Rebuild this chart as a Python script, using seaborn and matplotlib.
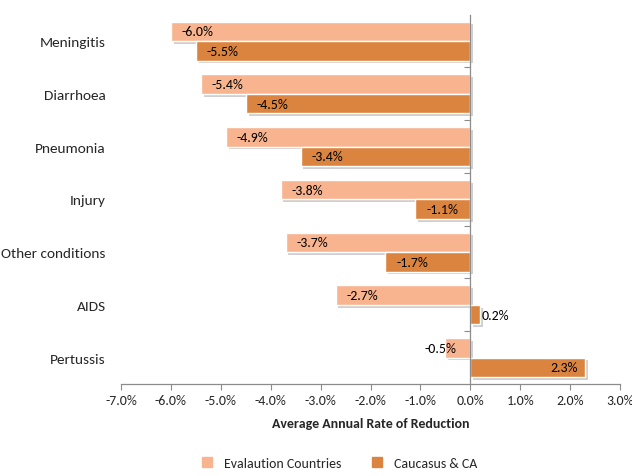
import matplotlib
matplotlib.use("Agg")
import matplotlib.pyplot as plt
import matplotlib.patheffects as pe
from matplotlib.lines import Line2D
from matplotlib.ticker import FixedLocator, FuncFormatter
import numpy as np
import pandas as pd
import seaborn as sns

causes = ["Meningitis", "Diarrhoea", "Pneumonia", "Injury", "Other conditions", "AIDS", "Pertussis"]
evaluation_countries = [-6.0, -5.4, -4.9, -3.8, -3.7, -2.7, -0.5]
caucasus_ca = [-5.5, -4.5, -3.4, -1.1, -1.7, 0.2, 2.3]
series_names = ["Evalaution Countries", "Caucasus & CA"]
x_ticks = [-7, -6, -5, -4, -3, -2, -1, 0, 1, 2, 3]

light = "#F8B48E"
dark = "#DB843F"
grey = "#8C8C8C"
fs = 10

sns.set_theme(style="white")
plt.rcParams["font.family"] = ["Carlito", "Lato", "DejaVu Sans"]

df = pd.DataFrame({
    "cause": causes * 2,
    "series": [series_names[0]] * len(causes) + [series_names[1]] * len(causes),
    "value": evaluation_countries + caucasus_ca,
})

fig = plt.figure(figsize=(6.32, 4.77), dpi=100)
ax = fig.add_axes([0.1915, 0.193, 0.7895, 0.774])

sns.barplot(data=df, y="cause", x="value", hue="series", order=causes,
            hue_order=series_names, palette=[light, dark], saturation=1, orient="h",
            width=0.74, gap=0, legend=False, ax=ax, errorbar=None)

shadow = [pe.SimplePatchShadow(offset=(2, -2), shadow_rgbFace="#a0a0a0", alpha=0.5), pe.Normal()]
for patch in ax.patches:
    patch.set_edgecolor("white")
    patch.set_linewidth(1.0)
    patch.set_path_effects(shadow)

# value labels, placed at the outer end of each bar
for container, vals in zip(ax.containers, [evaluation_countries, caucasus_ca]):
    for patch, v in zip(container.patches, vals):
        yc = patch.get_y() + patch.get_height() / 2
        txt = f"{v:.1f}%"
        if v < -1:
            ax.text(v + 0.22, yc, txt, ha="left", va="center", fontsize=fs, color="black")
        elif v < 0:
            ax.text(v - 0.1, yc, txt, ha="center", va="center", fontsize=fs, color="black")
        elif v < 1:
            ax.text(v + 0.03, yc, txt, ha="left", va="center", fontsize=fs, color="black")
        else:
            ax.text(v - 0.15, yc, txt, ha="right", va="center", fontsize=fs, color="black")

ax.set_xlim(-7, 3)
ax.set_ylim(len(causes) - 0.5, -0.5)
ax.xaxis.set_major_locator(FixedLocator(x_ticks))
ax.xaxis.set_major_formatter(FuncFormatter(lambda x, p: f"{x:.1f}%"))
ax.tick_params(axis="x", which="major", direction="out", length=4, width=0.8,
               color=grey, labelsize=fs, pad=3, bottom=True)
ax.set_xlabel("Average Annual Rate of Reduction", fontsize=fs, fontweight="bold", labelpad=8)
ax.set_ylabel("")

ax.set_yticks(range(len(causes)))
ax.set_yticklabels(causes, fontsize=fs)
ax.yaxis.set_minor_locator(FixedLocator(np.arange(0.5, len(causes) - 0.5, 1.0)))
ax.tick_params(axis="y", which="major", left=False, right=False, length=0, pad=11)
ax.tick_params(axis="y", which="minor", left=False, right=True, direction="in",
               length=4, width=0.8, color=grey)

for side in ["top", "left"]:
    ax.spines[side].set_visible(False)
ax.spines["right"].set_position(("data", 0))
ax.spines["right"].set_color(grey)
ax.spines["right"].set_linewidth(0.9)
ax.spines["bottom"].set_color(grey)
ax.spines["bottom"].set_linewidth(0.9)

handles = [Line2D([], [], marker="s", linestyle="none", markersize=7,
                  markerfacecolor=c, markeredgecolor=c) for c in [light, dark]]
fig.legend(handles, series_names, loc="lower center", bbox_to_anchor=(0.53, -0.012),
           ncol=2, frameon=False, fontsize=fs, handletextpad=0.2, columnspacing=1.6)

fig.savefig("out.png", dpi=100, facecolor="white")
